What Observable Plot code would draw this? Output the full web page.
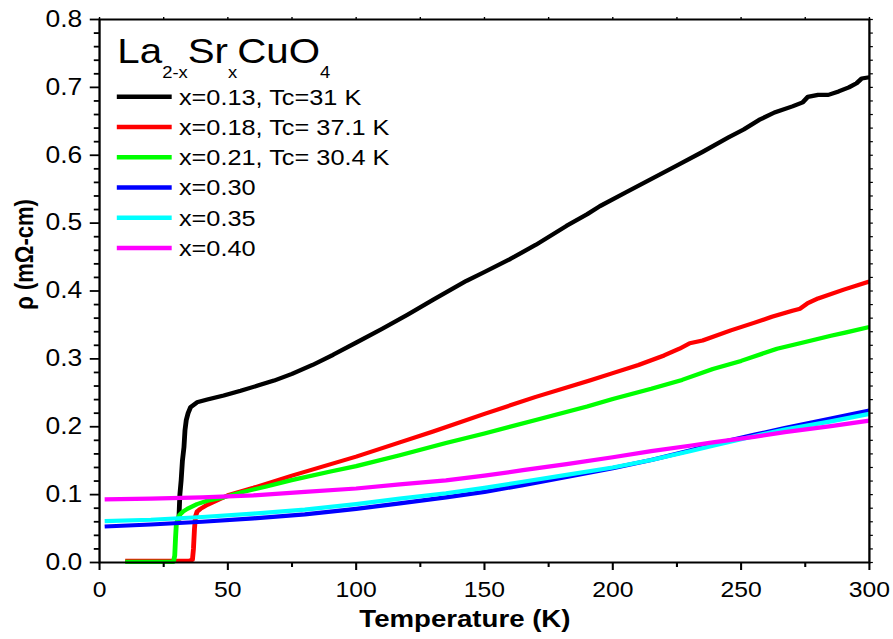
<!DOCTYPE html>
<html>
<head>
<meta charset="utf-8">
<script src="https://cdn.jsdelivr.net/npm/d3@7"></script>
<script src="https://cdn.jsdelivr.net/npm/@observablehq/plot@0.6"></script>
<style>
  html, body { margin: 0; padding: 0; background: #fff; }
  #chart { width: 893px; height: 639px; overflow: hidden; }
  /* the figure is drawn on a 776px canvas and widened to 893px */
  #chart svg { transform-origin: 0 0; transform: scaleX(1.15077); max-width: none !important; }
</style>
</head>
<body>
<div id="chart"></div>
<script>
// Resistivity of La(2-x)Sr(x)CuO4 films versus temperature
const T13 = [30.9,31.3,31.8,32.3,32.9,33.3,33.8,34.5,35.5,38,42,48.4,55,62,68,75,83,91,100,110,120,130,143,150,160,170,182,190,195,205,215,225,235,245,251,257,263,270,274,276,280,284,288,292,295,297,300];
const R13 = [0.062,0.10,0.121,0.15,0.17,0.195,0.21,0.22,0.229,0.236,0.240,0.246,0.253,0.261,0.268,0.278,0.291,0.306,0.324,0.344,0.365,0.387,0.415,0.428,0.447,0.468,0.496,0.513,0.525,0.545,0.565,0.585,0.605,0.626,0.638,0.652,0.663,0.672,0.678,0.686,0.689,0.689,0.694,0.700,0.706,0.713,0.715];

const T18 = [10,20,30,35,36.2,36.6,37.0,37.4,38,39.3,42,46,50,60,75,100,117,130,150,170,191,200,210,220,226,230,235,246,255,262,270,273,276,280,290,300];
const R18 = [0.0025,0.0025,0.0025,0.0025,0.004,0.02,0.05,0.068,0.075,0.079,0.085,0.092,0.099,0.110,0.128,0.156,0.177,0.193,0.219,0.244,0.268,0.279,0.291,0.305,0.315,0.323,0.327,0.342,0.353,0.362,0.371,0.374,0.382,0.389,0.402,0.414];

const T21 = [10,20,28.8,29.3,29.6,29.9,30.4,31.2,32.5,34.2,38,42,48.4,55,65,74.4,90,100,117,135,150,170,190,200,215,227,239,250,264,275,285,291,300];
const R21 = [0.001,0.001,0.001,0.01,0.035,0.055,0.063,0.07,0.075,0.079,0.086,0.091,0.096,0.103,0.112,0.121,0.134,0.142,0.158,0.176,0.190,0.210,0.230,0.241,0.256,0.269,0.285,0.297,0.315,0.325,0.334,0.339,0.347];

const T_over = [2,20,40,60,80,100,117,135,150,165,182,200,215,230,239,255,267,285,300];
const R30 = [0.053,0.056,0.060,0.065,0.071,0.079,0.087,0.096,0.104,0.114,0.126,0.139,0.151,0.165,0.174,0.188,0.198,0.212,0.224];
const R35 = [0.061,0.063,0.067,0.072,0.078,0.086,0.094,0.102,0.110,0.119,0.129,0.140,0.151,0.164,0.172,0.186,0.196,0.208,0.219];
const R40 = [0.093,0.094,0.096,0.099,0.104,0.109,0.115,0.121,0.128,0.136,0.145,0.155,0.164,0.172,0.177,0.185,0.192,0.201,0.209];

const seriesLabels = ["x=0.13, Tc=31 K", "x=0.18, Tc= 37.1 K", "x=0.21, Tc= 30.4 K", "x=0.30", "x=0.35", "x=0.40"];
const xTicks = [0, 50, 100, 150, 200, 250, 300];
const yTicks = [0, 0.1, 0.2, 0.3, 0.4, 0.5, 0.6, 0.7, 0.8];

const colors = ["#000000", "#ff0000", "#00ff00", "#0000ff", "#00ffff", "#ff00ff"];
const series = [
  [T13, R13], [T18, R18], [T21, R21], [T_over, R30], [T_over, R35], [T_over, R40]
];

const xMinor = d3.range(0, 301, 25).filter(v => v % 50 !== 0);
const yMinor = d3.range(0, 41).map(i => i / 50).filter((v, i) => i % 5 !== 0);
const xAll = d3.range(0, 301, 25);
const yAll = d3.range(0, 41).map(i => i / 50);

const font = "'Liberation Sans', Arial, Helvetica, sans-serif";

const chart = Plot.plot({
  width: 776,
  height: 639,
  marginLeft: 86,
  marginRight: 21,
  marginTop: 19,
  marginBottom: 77,
  style: { fontFamily: font, color: "#000", background: "#fff" },
  x: { domain: [0, 300], label: null },
  y: { domain: [0, 0.8], label: null },
  marks: [
    ...series.map(([T, R], i) =>
      Plot.line(R, { x: T, y: R, stroke: colors[i], strokeWidth: 4.2, strokeLinejoin: "round", strokeLinecap: "butt" })
    ),
    Plot.frame({ stroke: "#000", strokeWidth: 2 }),
    Plot.axisX({ ticks: xTicks, tickSize: 8, tickPadding: 11, fontSize: 21.5, strokeWidth: 1.8, tickFormat: d3.format("d"), label: null }),
    Plot.axisX({ ticks: xMinor, tickSize: 5, strokeWidth: 1.8, fill: "none", tickFormat: () => "", label: null }),
    Plot.axisX({ anchor: "top", ticks: xAll, tickSize: 3, strokeWidth: 1.2, fill: "none", tickFormat: () => "", label: null }),
    Plot.axisY({ ticks: yTicks, tickSize: 8, tickPadding: 7, fontSize: 23, strokeWidth: 1.8, tickFormat: d3.format(".1f"), label: null }),
    Plot.axisY({ ticks: yMinor, tickSize: 4.5, strokeWidth: 1.8, fill: "none", tickFormat: () => "", label: null }),
    Plot.axisY({ anchor: "right", ticks: yAll, tickSize: 2.5, strokeWidth: 1.2, fill: "none", tickFormat: () => "", label: null }),
    Plot.text(["Temperature (K)"], {
      frameAnchor: "bottom", lineAnchor: "middle", textAnchor: "middle",
      dx: -17, dy: 57, fontSize: 24, fontWeight: "bold", fill: "#000"
    }),
    Plot.text(["ρ (mΩ-cm)"], {
      frameAnchor: "left", lineAnchor: "middle", textAnchor: "middle", rotate: -90,
      dx: -65, dy: -36.5, fontSize: 22, fontWeight: "bold", fill: "#000"
    })
  ]
});

// Legend block: compound formula and one swatch per doping level
const legend = d3.select(chart).append("g")
  .attr("font-family", font)
  .attr("fill", "#000")
  .attr("text-anchor", "start");
const formula = legend.append("text").attr("x", 102).attr("y", 63).attr("font-size", 35);
[["La", 0], ["2-x", 1], ["Sr", 0], ["x", 1], ["CuO", 0], ["4", 1]].forEach(([s, sub], i, arr) => {
  const prevSub = i > 0 ? arr[i - 1][1] : 0;
  const shift = sub === prevSub ? 0 : (sub ? 15 : -15);
  formula.append("tspan")
    .attr("font-size", sub ? 16 : 35)
    .attr("dy", shift)
    .text(s);
});
seriesLabels.forEach((label, i) => {
  const cy = 96.7 + i * 30.26;
  legend.append("line")
    .attr("x1", 101.5).attr("x2", 149.2)
    .attr("y1", cy).attr("y2", cy)
    .attr("stroke", colors[i]).attr("stroke-width", 4.5);
  legend.append("text")
    .attr("x", 155.5).attr("y", cy).attr("dy", "0.36em")
    .attr("font-size", 22)
    .text(label);
});

document.getElementById("chart").appendChild(chart);
</script>
</body>
</html>
